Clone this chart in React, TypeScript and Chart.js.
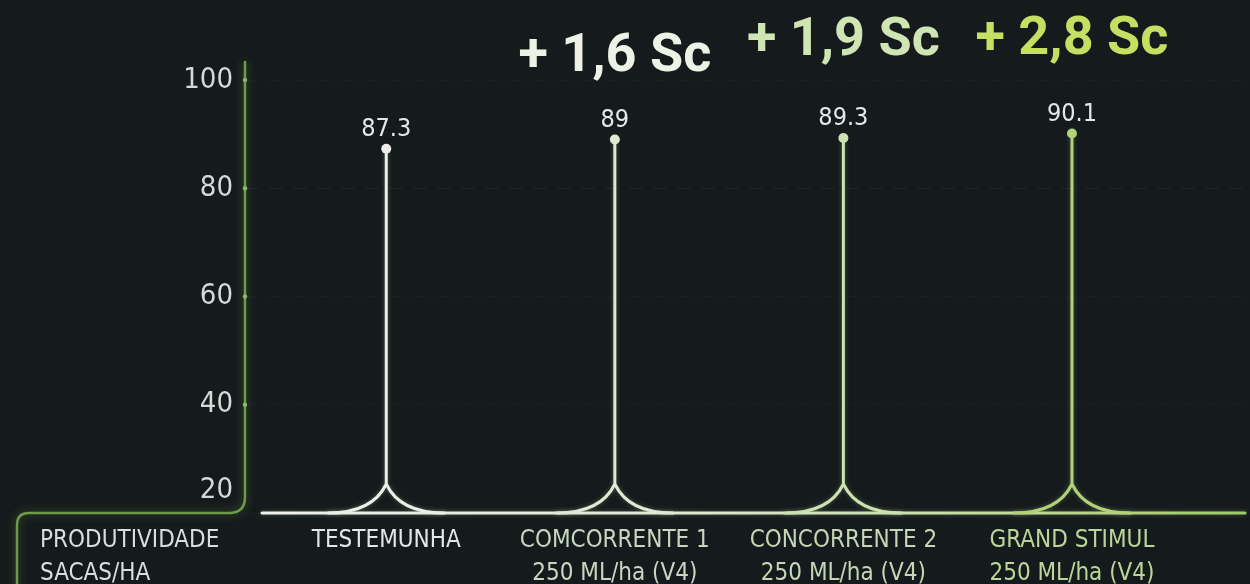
import React, { useEffect, useRef } from "react";
import { Chart, registerables } from "chart.js";

Chart.register(...registerables);

// ---------- data ----------
const categoryNames = ["TESTEMUNHA", "COMCORRENTE 1", "CONCORRENTE 2", "GRAND STIMUL"];
const categoryDoses = ["", "250 ML/ha (V4)", "250 ML/ha (V4)", "250 ML/ha (V4)"];
const yieldValues = [87.3, 89, 89.3, 90.1];
const valueLabels = ["87.3", "89", "89.3", "90.1"];
const gainLabels = ["", "+ 1,6 Sc", "+ 1,9 Sc", "+ 2,8 Sc"];
const yTickValues = [20, 40, 60, 80, 100];
const axisTitleLines = ["PRODUTIVIDADE", "SACAS/HA"];

// ---------- style ----------
const BG = "#151b1c";
const NARROW = "'Liberation Sans Narrow', 'DejaVu Sans Condensed', 'Roboto Condensed', Roboto, sans-serif";
const BOLD = "Roboto, 'Open Sans', sans-serif";
const stemColors = ["#eceeec", "#e0e9d4", "#cde2b0", "#b2d27a"];
const gainColors = ["#ffffff", "#eef2e6", "#cfe5b3", "#c6de62"];
const labelColors = ["#e4e6e4", "#c8d6c2", "#c4d6b6", "#bcd69a"];
const gainLift = [0, 82, 96, 93];
const AXIS_GREEN = "#6e9a4a";
const BRACKET_X = 17;
const FLARE_W = 58;
const FLARE_H = 29;

const spikePlugin = {
  id: "spikes",
  beforeDatasetsDraw(chart: any) {
    const { ctx, chartArea, scales } = chart;
    const ys = scales.y;
    const yb = ys.getPixelForValue(ys.min);
    const left = chartArea.left;
    ctx.save();
    ctx.lineCap = "round";
    // axis bracket
    ctx.strokeStyle = AXIS_GREEN;
    ctx.lineWidth = 2.5;
    ctx.shadowColor = "rgba(110,160,70,0.55)";
    ctx.shadowBlur = 8;
    const r = 16;
    ctx.beginPath();
    ctx.moveTo(left, chartArea.top - 18);
    ctx.lineTo(left, yb - r);
    ctx.quadraticCurveTo(left, yb, left - r, yb);
    ctx.lineTo(BRACKET_X + 12, yb);
    ctx.quadraticCurveTo(BRACKET_X, yb, BRACKET_X, yb + 12);
    ctx.lineTo(BRACKET_X, chart.height + 5);
    ctx.stroke();
    // tick dots
    ctx.shadowBlur = 0;
    ctx.fillStyle = "#8fb86a";
    yTickValues.slice(1).forEach((v) => {
      ctx.beginPath();
      ctx.arc(left, ys.getPixelForValue(v), 2.2, 0, Math.PI * 2);
      ctx.fill();
    });
    // baseline
    const grad = ctx.createLinearGradient(left, 0, chartArea.right, 0);
    grad.addColorStop(0, "#eef0ee");
    grad.addColorStop(0.4, "#e2ead8");
    grad.addColorStop(0.7, "#c8e0a8");
    grad.addColorStop(1, "#a2ca64");
    ctx.shadowColor = "rgba(200,230,170,0.3)";
    ctx.shadowBlur = 4;
    ctx.strokeStyle = grad;
    ctx.lineWidth = 3;
    ctx.beginPath();
    ctx.moveTo(left + 17, yb);
    ctx.lineTo(chartArea.right, yb);
    ctx.stroke();
    // stems with flared base
    const meta = chart.getDatasetMeta(0);
    meta.data.forEach((pt: any, i: number) => {
      const { x, y } = pt.getProps(["x", "y"], true);
      const cy = yb - FLARE_H;
      ctx.strokeStyle = stemColors[i];
      ctx.lineWidth = 3;
      ctx.beginPath();
      ctx.moveTo(x, y);
      ctx.lineTo(x, cy);
      [-1, 1].forEach((d) => {
        ctx.moveTo(x, cy);
        ctx.bezierCurveTo(
          x + d * FLARE_W * 0.12, cy + FLARE_H * 0.5,
          x + d * FLARE_W * 0.38, yb,
          x + d * FLARE_W, yb
        );
      });
      ctx.stroke();
    });
    ctx.restore();
  },
  afterDatasetsDraw(chart: any) {
    const { ctx } = chart;
    const meta = chart.getDatasetMeta(0);
    ctx.save();
    ctx.textAlign = "center";
    ctx.textBaseline = "middle";
    meta.data.forEach((pt: any, i: number) => {
      const { x, y } = pt.getProps(["x", "y"], true);
      ctx.fillStyle = "#e6e8e6";
      ctx.font = `400 25px ${NARROW}`;
      ctx.fillText(valueLabels[i], x, y - 19);
      if (gainLabels[i]) {
        ctx.fillStyle = gainColors[i];
        ctx.font = `700 54px ${BOLD}`;
        ctx.fillText(gainLabels[i], x, y - gainLift[i]);
      }
    });
    // left axis title
    const xs = chart.scales.x;
    ctx.textAlign = "left";
    ctx.fillStyle = "#dadedb";
    ctx.font = `400 24px ${NARROW}`;
    axisTitleLines.forEach((t, i) => {
      ctx.fillText(t, 40, xs.top + 28 + i * 33);
    });
    ctx.restore();
  },
};

export default function App() {
  const ref = useRef<HTMLCanvasElement | null>(null);
  useEffect(() => {
    document.body.style.margin = "0";
    document.body.style.background = BG;
    const chart = new Chart(ref.current as HTMLCanvasElement, {
      type: "scatter",
      data: {
        datasets: [
          {
            data: yieldValues.map((v, i) => ({ x: i, y: v })),
            pointRadius: 5,
            pointHoverRadius: 5,
            pointBackgroundColor: stemColors,
            pointBorderWidth: 0,
            showLine: false,
          },
        ],
      },
      options: {
        animation: false,
        responsive: false,
        events: [],
        layout: { padding: { top: 80, left: 0, right: 0, bottom: 0 } },
        plugins: { legend: { display: false }, tooltip: { enabled: false } },
        scales: {
          x: {
            type: "linear",
            min: -0.618,
            max: 3.757,
            afterBuildTicks: (s: any) => {
              s.ticks = categoryNames.map((_, i) => ({ value: i }));
            },
            afterFit: (s: any) => {
              s.height = 71;
            },
            grid: { display: false, drawTicks: false },
            border: { display: false },
            ticks: {
              autoSkip: false,
              maxRotation: 0,
              padding: 11,
              color: (c: any) => labelColors[c.index] || "#ddd",
              font: { family: NARROW, size: 24, lineHeight: 1.375 },
              callback: (v: any) => [categoryNames[v], categoryDoses[v]],
            },
          },
          y: {
            min: 20,
            max: 100,
            afterBuildTicks: (s: any) => {
              s.ticks = yTickValues.map((v) => ({ value: v }));
            },
            afterFit: (s: any) => {
              s.width = 245;
            },
            grid: {
              drawTicks: false,
              color: (c: any) => (c.tick && c.tick.value === 80 ? "rgba(255,255,255,0.05)" : "rgba(255,255,255,0.025)"),
            },
            border: { display: false, dash: [14, 10] },
            ticks: {
              padding: 12,
              color: "#d6dad7",
              font: { family: NARROW, size: 29, lineHeight: 1.58 },
              callback: (v: any) => (v === yTickValues[0] ? [String(v), ""] : String(v)),
            },
          },
        },
      },
      plugins: [spikePlugin],
    } as any);
    return () => chart.destroy();
  }, []);
  return (
    <div style={{ position: "fixed", left: 0, top: 0, width: 1250, height: 584, background: BG }}>
      <canvas ref={ref} width={1250} height={584} style={{ display: "block" }} />
    </div>
  );
}
